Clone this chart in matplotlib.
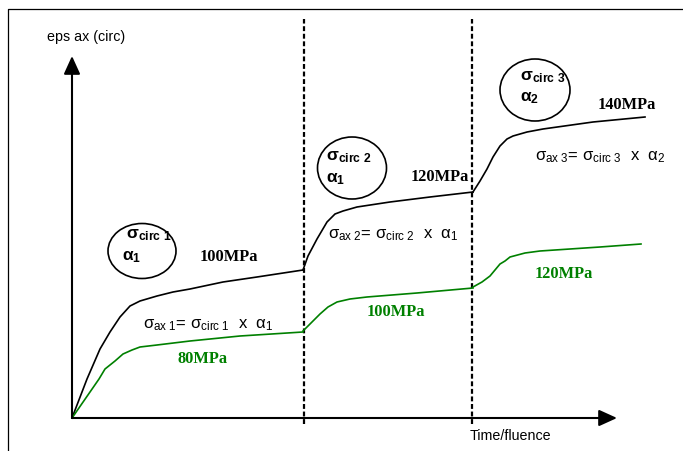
import numpy as np
import matplotlib
matplotlib.use('Agg')
import matplotlib.pyplot as plt
from matplotlib.patches import Ellipse

plt.rcParams['font.family'] = ['Liberation Sans', 'DejaVu Sans']
plt.rcParams['mathtext.fontset'] = 'custom'
plt.rcParams['mathtext.rm'] = 'Liberation Sans'
plt.rcParams['mathtext.it'] = 'Liberation Sans'
plt.rcParams['mathtext.bf'] = 'Liberation Sans:bold'

GREEN = '#008000'

# schematic strain history, one piece per stress step (time, eps)
t_black_1 = [0, 15, 28, 38, 48, 58, 68, 85, 101, 118, 151, 185, 231]
eps_black_1 = [0, 39, 69, 86, 101, 112, 117, 122, 126, 129, 136, 141, 148]
t_black_2 = [231, 236, 245, 255, 263, 271, 285, 318, 358, 401]
eps_black_2 = [148, 162, 179, 196, 204, 207, 211, 216, 221, 226]
t_black_3 = [401, 408, 415, 421, 428, 435, 441, 455, 471, 521, 573]
eps_black_3 = [226, 237, 249, 261, 272, 279, 282, 286, 289, 296, 301]

t_green_1 = [0, 27, 33, 43, 51, 60, 68, 85, 118, 168, 231]
eps_green_1 = [0, 39, 49, 57, 64, 68, 71, 73, 77, 82, 86]
t_green_2 = [231, 240, 248, 256, 265, 278, 295, 345, 401]
eps_green_2 = [87, 96, 104, 111, 116, 119, 121, 125, 130]
t_green_3 = [401, 410, 418, 423, 428, 433, 438, 453, 468, 528, 569]
eps_green_3 = [131, 136, 142, 148, 154, 157, 161, 165, 167, 171, 174]

step_times = [232, 400]
black_labels = ['100MPa', '120MPa', '140MPa']
green_labels = ['80MPa', '100MPa', '120MPa']


def arrow(ax, x0, y0, x1, y1):
    ax.annotate('', xy=(x1, y1), xytext=(x0, y0),
                arrowprops=dict(arrowstyle='-|>,head_length=0.55,head_width=0.25',
                                mutation_scale=20, lw=1.5, color='black',
                                shrinkA=0, shrinkB=0))


fig = plt.figure(figsize=(6.83, 4.52), dpi=100)
ax = fig.add_axes([0, 0, 1, 1])
ax.set_xlim(-72, 611)
ax.set_ylim(-33, 419)
ax.axis('off')

# frame (only left and top visible)
ax.plot([-64, -64, 611], [-33, 409, 409], color='black', lw=0.9)

# axes
arrow(ax, 0, 0, 0, 362)
arrow(ax, 0, 0, 545, 0)
ax.text(-25, 382, 'eps ax (circ)', fontsize=10.3, ha='left', va='center')
ax.text(398, -17, 'Time/fluence', fontsize=10.3, ha='left', va='center')

for ts in step_times:
    ax.plot([ts, ts], [-6, 399], color='black', lw=1.6, ls=(0, (2.2, 1.2)))

for t, e in [(t_black_1, eps_black_1), (t_black_2, eps_black_2), (t_black_3, eps_black_3)]:
    ax.plot(t, e, color='black', lw=1.2, solid_joinstyle='round')
for t, e in [(t_green_1, eps_green_1), (t_green_2, eps_green_2), (t_green_3, eps_green_3)]:
    ax.plot(t, e, color=GREEN, lw=1.2, solid_joinstyle='round')

serif = dict(family='Liberation Serif', fontweight='bold', fontsize=11.8, va='center')
for (x, y), s in zip([(128, 162), (339, 242), (526, 314)], black_labels):
    ax.text(x, y, s, color='black', **serif)
for (x, y), s in zip([(106, 60), (295, 107), (463, 145)], green_labels):
    ax.text(x, y, s, color=GREEN, **serif)

# circled stress / coefficient boxes
for (cx, cy, w, h) in [(70, 167, 68, 55), (280, 250, 69, 62), (463, 328, 70, 62)]:
    ax.add_patch(Ellipse((cx, cy), w, h, fill=False, ec='black', lw=1.2))

circ = [('1', '1', 54, 184, 50, 162),
        ('2', '1', 254, 262, 254, 240),
        ('3', '2', 448, 342, 448, 321)]
for n, a, xs, ys, xa, ya in circ:
    ax.text(xs, ys, r'σ$_{\bf circ\ %s}$' % n, fontsize=12.5, fontweight='bold',
            ha='left', va='center')
    ax.text(xa, ya, r'α$_{\bf %s}$' % a, fontsize=12.5, fontweight='bold',
            ha='left', va='center')

# relation between axial and circumferential stress
for n, a, x, y in [('1', '1', 71, 94), ('2', '1', 256, 184), ('3', '2', 463, 262)]:
    ax.text(x, y, r'σ$_{\rm ax\ %s}$= σ$_{\rm circ\ %s}$  x  α$_{%s}$' % (n, n, a),
            fontsize=12, ha='left', va='center')

fig.savefig('out.png', dpi=100)
